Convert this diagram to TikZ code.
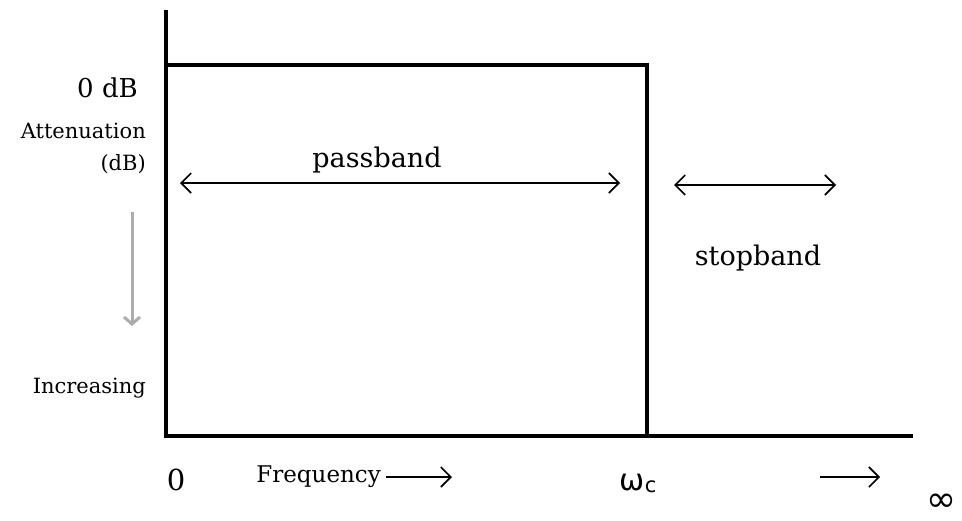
\documentclass[tikz,border=0pt]{standalone}
\usepackage{fontspec}
\setmainfont{DejaVu Serif}
\newfontfamily\symfont{DejaVu Sans}
\usetikzlibrary{arrows.meta}
\tikzset{
  axis/.style={line width=3.5pt},
  band/.style={line width=1.6pt,{Straight Barb[length=10pt,width=20pt]}-{Straight Barb[length=10pt,width=20pt]}},
  onearrow/.style={line width=1.6pt,-{Straight Barb[length=10pt,width=20pt]}},
  lbl/.style={inner sep=0pt,font=\fontsize{26}{30}\selectfont},
  small/.style={inner sep=0pt,font=\fontsize{21}{25}\selectfont}
}
\begin{document}
\begin{tikzpicture}[x=1pt,y=-1pt]
\useasboundingbox (0,0) rectangle (962,520);
\coordinate (top) at (166,10);
\coordinate (orig) at (166,436);
\coordinate (end) at (913,436);
\coordinate (tl) at (166,65);
\coordinate (tr) at (647,65);
\coordinate (br) at (647,436);
\draw[axis] (top) -- (orig) -- (end);
\draw[axis] (tl) -- (tr) -- (br);

\node[lbl,anchor=east] (zerodb) at (138,88) {0 dB};
\node[small,anchor=east] (att) at (146,131) {Attenuation};
\node[small,anchor=east] (dbu) at (146,164) {(dB)};
\node[small,anchor=east] (inc) at (146,388) {Increasing};
\coordinate (ga) at (132,212);
\coordinate (gb) at (132,326);
\draw[line width=3pt,gray!65,-{Straight Barb[length=7pt,width=16pt]}] (ga) -- (gb);

\coordinate (pa) at (180,183);
\coordinate (pb) at (620,183);
\draw[band] (pa) -- (pb);
\node[lbl,font=\fontsize{27}{30}\selectfont] (pass) at (377,160) {passband};

\coordinate (sa) at (674,185);
\coordinate (sb) at (836,185);
\draw[band] (sa) -- (sb);
\node[lbl,font=\fontsize{27}{30}\selectfont] (stop) at (758,258) {stopband};

\node[lbl,font=\fontsize{29}{32}\selectfont] (zero) at (176,480) {0};
\node[lbl,anchor=east,font=\fontsize{23}{28}\selectfont] (freq) at (381,477) {Frequency};
\coordinate (fa) at (386,477);
\coordinate (fb) at (452,477);
\draw[onearrow] (fa) -- (fb);
\node[lbl] (wc) at (638,483) {{\symfont\fontsize{30}{32}\selectfont ω}\raisebox{-2pt}{\symfont\fontsize{21}{24}\selectfont c}};
\coordinate (ia) at (820,477);
\coordinate (ib) at (880,477);
\draw[onearrow] (ia) -- (ib);
\node[inner sep=0pt,anchor=base] (inf) at (941,511) {\symfont\fontsize{36}{38}\selectfont ∞};
\end{tikzpicture}
\end{document}
